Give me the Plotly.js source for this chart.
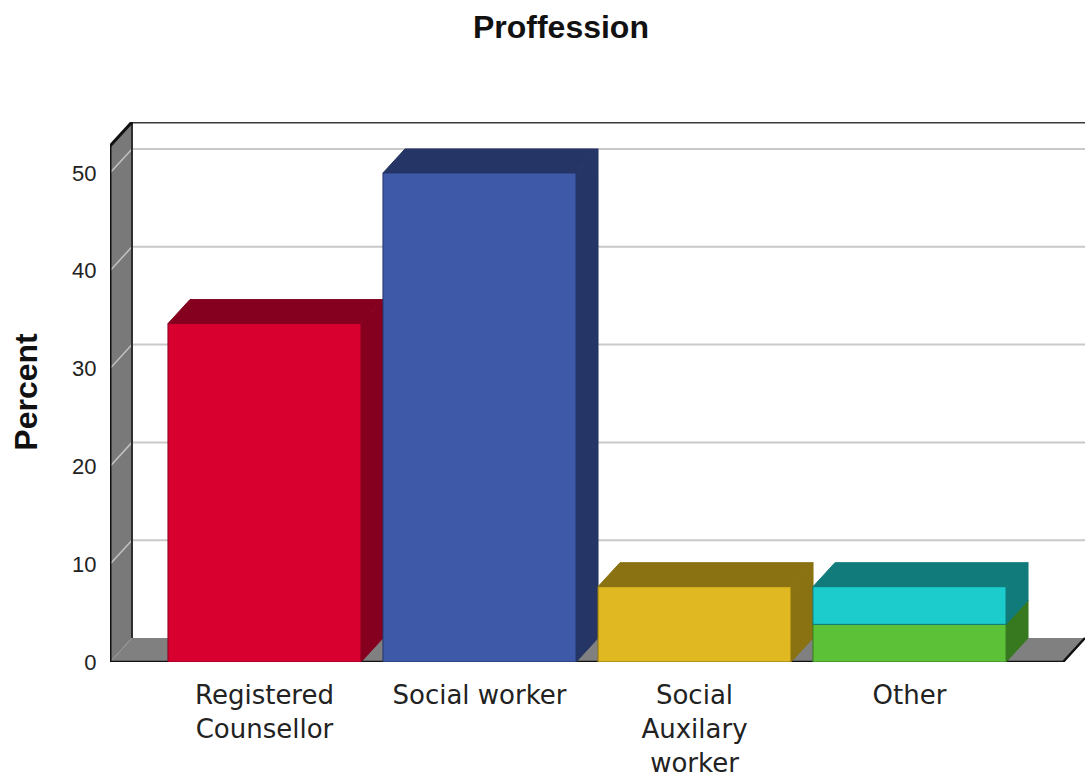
<!DOCTYPE html>
<html>
<head>
<meta charset="utf-8">
<script src="https://cdn.plot.ly/plotly-3.0.1.min.js"></script>
<style>
  html, body { margin: 0; padding: 0; background: #ffffff; }
  #chart { width: 1085px; height: 778px; }
</style>
</head>
<body>
<div id="chart"></div>
<script>
// ---- data ----
const categories = ['Registered<br>Counsellor', 'Social worker', 'Social<br>Auxilary<br>worker', 'Other'];
const percentLower = [34.6, 50.0, 7.7, 3.85];   // base segment of each bar
const percentUpper = [0, 0, 0, 3.85];           // stacked segment (only "Other")
const yTickValues = [0, 10, 20, 30, 40, 50];
const titleText = 'Proffession';
const yTitleText = 'Percent';

// ---- styling ----
const frontLower = ['#d7002e', '#3e59a8', '#e0b821', '#5dc137'];
const darkLower  = ['#85001f', '#253565', '#8a7111', '#36791f'];
const frontUpper = ['#1ccccc', '#1ccccc', '#1ccccc', '#1ccccc'];
const darkUpper  = ['#117b7b', '#117b7b', '#117b7b', '#117b7b'];

// 3D geometry in axis units
const xMin = -0.7186, xMax = 3.8163;
const yMax = 55.21;
const dx = 0.1023;      // depth offset along x
const dy = 2.454;       // depth offset along y
const half = 0.449;     // half bar width
const topFront = yMax - dy;

const traces = [];
function poly(xs, ys, fill, lineColor, lineWidth) {
  traces.push({
    type: 'scatter', mode: 'lines', x: xs.concat([xs[0]]), y: ys.concat([ys[0]]),
    fill: 'toself', fillcolor: fill,
    line: { color: lineColor || fill, width: lineWidth === undefined ? 1 : lineWidth },
    hoverinfo: 'skip', showlegend: false
  });
}
function seg(xs, ys, color, width) {
  traces.push({
    type: 'scatter', mode: 'lines', x: xs, y: ys,
    line: { color: color, width: width },
    hoverinfo: 'skip', showlegend: false
  });
}

// left wall
poly([xMin, xMin, xMin + dx, xMin + dx], [0, topFront, yMax, dy], '#797979', '#797979', 0);
// floor
poly([xMin, xMax - dx, xMax, xMin + dx], [0, 0, dy, dy], '#808080', '#808080', 0);

// gridlines on back wall and left wall
yTickValues.forEach(v => {
  if (v === 0) return;
  seg([xMin + dx, xMax], [v + dy, v + dy], '#c9c9c9', 2);
  seg([xMin, xMin + dx], [v, v + dy], '#c2c2c2', 1.5);
});
// floor back-left diagonal
seg([xMin, xMin + dx], [0, dy], '#9a9a9a', 1);

// frame edges
seg([xMin + dx, xMax], [yMax, yMax], '#3a3a3a', 3);
seg([xMin + dx, xMin + dx], [dy, yMax], '#2e2e2e', 2);
seg([xMin, xMin + dx], [topFront, yMax], '#111111', 3);
seg([xMin, xMin], [0, topFront], '#111111', 3);
seg([xMin, xMax - dx, xMax], [0, 0, dy], '#111111', 2.5);

// bars
function box(c, b, t, front, dark) {
  const l = c - half, r = c + half;
  poly([r, r + dx, r + dx, r], [b, b + dy, t + dy, t], dark, dark, 1);           // side
  poly([l, r, r + dx, l + dx], [t, t, t + dy, t + dy], dark, dark, 1);           // top
  poly([l, r, r, l], [b, b, t, t], front, dark, 1);                              // front
}
categories.forEach((cat, i) => {
  const lower = percentLower[i];
  const upper = percentUpper[i];
  box(i, 0, lower, frontLower[i], darkLower[i]);
  if (upper > 0) box(i, lower, lower + upper, frontUpper[i], darkUpper[i]);
});

const layout = {
  width: 1085, height: 778,
  margin: { l: 110, r: 0, t: 122, b: 116, pad: 0 },
  paper_bgcolor: '#ffffff', plot_bgcolor: 'rgba(0,0,0,0)',
  showlegend: false,
  title: {
    text: '<b>' + titleText + '</b>',
    font: { family: 'Liberation Sans, Arial, sans-serif', size: 32, color: '#111111' },
    x: 0.517, xref: 'container', xanchor: 'center',
    y: 0.965, yref: 'container', yanchor: 'middle'
  },
  xaxis: {
    range: [xMin, xMax], fixedrange: true,
    showgrid: false, zeroline: false, showline: false,
    tickmode: 'array', tickvals: categories.map((c, i) => i), ticktext: categories,
    ticks: 'outside', ticklen: 10, tickcolor: 'rgba(0,0,0,0)',
    tickfont: { family: 'DejaVu Sans, sans-serif', size: 26, color: '#222222' }
  },
  yaxis: {
    range: [0, yMax], fixedrange: true,
    showgrid: false, zeroline: false, showline: false,
    tickmode: 'array', tickvals: yTickValues, ticktext: yTickValues.map(String),
    ticks: 'outside', ticklen: 8, tickcolor: 'rgba(0,0,0,0)',
    tickfont: { family: 'Liberation Sans, Arial, sans-serif', size: 22, color: '#222222' },
    title: {
      text: '<b>' + yTitleText + '</b>', standoff: 24,
      font: { family: 'Liberation Sans, Arial, sans-serif', size: 32, color: '#111111' }
    }
  }
};

Plotly.newPlot('chart', traces, layout, { staticPlot: true, displayModeBar: false });
</script>
</body>
</html>
